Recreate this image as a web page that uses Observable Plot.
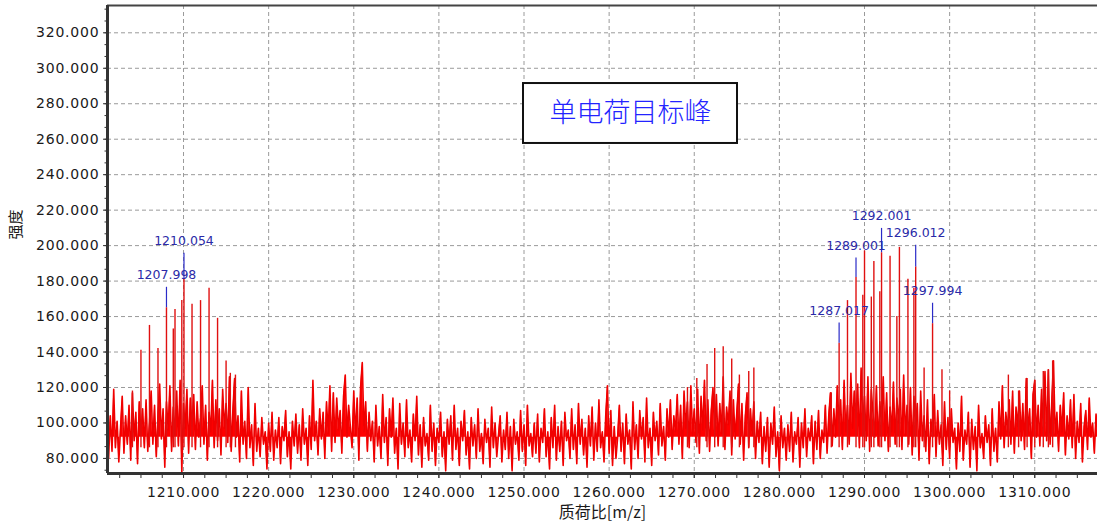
<!DOCTYPE html>
<html>
<head>
<meta charset="utf-8">
<script src="https://cdn.jsdelivr.net/npm/d3@7"></script>
<script src="https://cdn.jsdelivr.net/npm/@observablehq/plot@0.6"></script>
<style>
  html, body { margin: 0; padding: 0; background: #fff; }
  #chart { width: 1097px; height: 530px; }
  g[aria-label="x-axis tick label"] text,
  g[aria-label="y-axis tick label"] text { letter-spacing: 0.8px; }
</style>
</head>
<body>
<div id="chart"></div>
<script>
// ---- sampling of the profile spectrum ----
const mzStart = 1201.0;
const mzStep = 0.2;

// profile intensity, 0.2 m/z steps (each group of 5 = one m/z unit)
const noise1201 = [
  92,80,104,84,119, 86,101,78,97,115, 83,104,88,110,79, 117,90,106,77,112, 94,108,86,113,84,
  100,118,88,110,81, 104,122,91,108,75, 112,96,121,84,109, 93,118,87,124,72, 111,97,119,83,114];
const noise1211 = [
  98,116,85,112,92, 103,121,88,110,79, 106,95,124,86,113, 90,108,82,119,97, 111,89,126,84,107,
  125,92,104,78,118, 88,101,80,120,86, 99,76,111,84,97, 81,103,88,95,74, 100,84,106,79,96];
const noise1221 = [
  86,103,77,98,90, 107,81,95,74,101, 87,105,83,99,79, 108,88,97,76,104, 85,124,90,101,82,
  108,91,106,80,112, 94,121,84,117,89, 114,96,107,83,115, 127,92,110,98,86, 118,93,114,79,120];
const noise1231 = [
  134,95,112,84,106, 90,101,78,110,87, 98,80,116,89,103, 76,108,92,114,83, 97,74,111,88,100,
  81,113,86,96,78, 105,90,115,82,99, 75,103,87,94,79, 110,84,100,76,97, 89,106,81,95,73];
const noise1241 = [
  102,88,104,79,110, 85,97,76,101,90, 107,82,95,74,103, 87,99,80,108,84, 94,77,102,89,97,
  75,109,86,100,81, 93,104,78,96,85, 106,80,98,73,102, 88,95,79,107,84, 99,76,110,87,94];
const noise1251 = [
  81,100,83,105,78, 97,89,108,81,95, 74,103,86,110,79, 98,84,101,76,106, 90,96,80,108,85,
  99,77,111,88,102, 82,97,75,104,87, 109,79,100,84,113, 86,95,78,104,121, 83,107,76,98,80];
const noise1261 = [
  92,110,84,100,77, 105,88,96,74,112, 85,99,80,107,91, 103,78,114,86,97, 76,106,90,101,82,
  111,87,98,79,108, 92,113,85,104,95, 116,88,110,80,118, 97,112,86,121,93, 108,89,119,83,115];
const noise1271 = [
  96,124,90,113,84, 107,120,92,116,87, 111,94,126,85,109, 99,118,82,113,91, 106,122,88,111,79,
  104,117,86,108,93, 112,80,101,89,106, 77,98,84,103,75, 100,88,109,81,95, 73,104,86,97,79];
const noise1281 = [
  99,84,106,78,95, 88,103,75,100,86, 108,81,97,90,104, 77,101,85,107,80, 96,89,110,83,104,
  117,87,108,92,121, 100,113,85,124,95, 110,88,128,97,118, 103,122,86,131,99, 115,90,126,84,119];
const noise1291 = [
  105,92,121,87,112, 98,126,90,117,84, 109,95,123,88,114, 100,119,85,127,93, 110,88,120,82,115,
  97,111,79,118,90, 104,84,113,77,102, 92,116,81,107,88, 99,76,112,85,103, 80,108,89,97,74];
const noise1301 = [
  100,84,115,79,96, 88,106,75,102,85, 98,73,110,86,94, 80,104,89,99,76, 108,84,97,78,112,
  91,121,86,106,95, 113,88,118,83,109, 98,118,90,111,85, 125,94,108,80,116, 124,92,110,87,119];
const noise1311 = [
  97,129,90,130,88, 112,135,93,106,84, 110,95,117,82,104, 91,113,86,116,80, 101,89,111,78,98,
  107,85,114,92,100, 83,105,94];

// isotope / centroid lines (m/z, intensity)
const peakMz = [
  1204.0, 1205.0, 1206.0, 1207.0, 1207.998, 1208.8, 1209.0, 1209.8, 1210.054, 1211.0, 1212.0, 1213.0, 1214.0, 1215.0, 1215.5, 1216.1,
  1269.2, 1270.3, 1271.5, 1272.4, 1273.4, 1274.4, 1275.3, 1276.4, 1277.0,
  1286.1, 1287.017, 1288.0, 1289.001, 1289.8, 1290.0, 1290.8, 1291.1, 1291.8, 1292.001, 1293.0, 1293.8, 1294.1, 1295.1, 1295.8, 1296.012, 1297.0, 1297.994, 1299.1, 1300.0,
  1306.9, 1308.1, 1309.1, 1310.0, 1311.0, 1311.6, 1312.1];
const peakInt = [
  118, 141, 155, 142, 165, 153, 164, 169, 181, 167, 169, 176, 159, 135, 128, 127,
  120, 125, 133, 142, 143, 136, 127, 129, 131,
  117, 145, 169, 182, 172, 197, 171, 191, 174, 196, 194, 160, 199, 181, 176, 188, 131, 156, 130, 118,
  127, 118, 125, 124, 129, 130, 135];

// labelled peaks
const labelMz   = [1207.998, 1210.054, 1287.017, 1289.001, 1292.001, 1296.012, 1297.994];
const labelPeak = [165, 181, 145, 182, 196, 188, 156];
const labelTop  = [176.5, 195.7, 156.4, 193, 209.7, 200.2, 167.5];
const labelText = ["1207.998", "1210.054", "1287.017", "1289.001", "1292.001", "1296.012", "1297.994"];

// annotation box
const annotText = ["单电荷目标峰"];
const annotX1 = [1249.94], annotX2 = [1275.08], annotY1 = [257.6], annotY2 = [291.4];

// axes
const xDomain = [1201.07, 1317.37];
const yDomain = [71.5, 335.4];
const xTicks = [1210, 1220, 1230, 1240, 1250, 1260, 1270, 1280, 1290, 1300, 1310];
const yTicks = [80, 100, 120, 140, 160, 180, 200, 220, 240, 260, 280, 300, 320];
const xLabel = "质荷比[m/z]";
const yLabel = "强度";
const bandBase = 92;

// ---- build tables ----
const noiseAll = [].concat(noise1201, noise1211, noise1221, noise1231, noise1241, noise1251,
  noise1261, noise1271, noise1281, noise1291, noise1301, noise1311);
const spectrum = noiseAll.map((v, i) => ({mz: +(mzStart + i * mzStep).toFixed(2), intensity: v}));
const peaks = peakMz.map((m, i) => ({mz: m, intensity: peakInt[i]}));
const labels = labelMz.map((m, i) => ({mz: m, peak: labelPeak[i], top: labelTop[i], text: labelText[i]}));
const annot = annotText.map((t, i) => ({x1: annotX1[i], x2: annotX2[i], y1: annotY1[i], y2: annotY2[i], text: t}));

const xMinor = d3.range(1202.5, 1317.2, 2.5);
const yMinor = d3.range(80, 335, 20 / 3).concat(d3.range(80 - 20 / 3, 71, -20 / 3));
const fmt = d3.format(".3f");

const chart = Plot.plot({
  width: 1097,
  height: 530,
  marginLeft: 107,
  marginRight: 0,
  marginTop: 5,
  marginBottom: 57,
  x: {domain: xDomain, axis: null},
  y: {domain: yDomain, axis: null},
  style: {fontFamily: "DejaVu Sans, sans-serif", fontSize: "14px", color: "#1a1a1a", background: "#fff", overflow: "visible"},
  marks: [
    Plot.gridX({ticks: xTicks, stroke: "#9a9a9a", strokeOpacity: 1, strokeDasharray: "4,3"}),
    Plot.gridY({ticks: yTicks, stroke: "#9a9a9a", strokeOpacity: 1, strokeDasharray: "4,3"}),
    Plot.areaY(spectrum, {x: "mz", y1: bandBase, y2: "intensity", fill: "#ff0000", clip: true}),
    Plot.lineY(spectrum, {x: "mz", y: "intensity", stroke: "#f00000", strokeWidth: 1.6, clip: true}),
    Plot.ruleX(peaks, {x: "mz", y1: 86, y2: "intensity", stroke: "#e01010", strokeWidth: 1.4, clip: true}),
    Plot.ruleX(labels, {x: "mz", y1: "peak", y2: "top", stroke: "#2b2bc8", strokeWidth: 1.2}),
    Plot.text(labels, {x: "mz", y: "top", text: "text", dy: -12, fill: "#2a2aa8", fontSize: 12.5, lineAnchor: "middle"}),
    Plot.rect(annot, {x1: "x1", x2: "x2", y1: "y1", y2: "y2", fill: "#fff", stroke: "#111", strokeWidth: 2}),
    Plot.text(annot, {x: d => (d.x1 + d.x2) / 2, y: d => (d.y1 + d.y2) / 2, text: "text", fill: "#2323ff",
      fontSize: 27, fontFamily: "Noto Sans CJK SC", fontWeight: 300, lineAnchor: "middle"}),
    // axes
    Plot.axisX({ticks: xMinor, tickSize: 5, tickFormat: () => "", label: null, stroke: "#333"}),
    Plot.axisX({ticks: xTicks, tickSize: 5, tickPadding: 9, tickFormat: fmt, label: null, stroke: "#333", fill: "#1a1a1a"}),
    Plot.axisY({ticks: yMinor, tickSize: 2.5, tickFormat: () => "", label: null, stroke: "#333"}),
    Plot.axisY({ticks: yTicks, tickSize: 4, tickPadding: 4, tickFormat: fmt, label: null, stroke: "#333", fill: "#1a1a1a"}),
    Plot.ruleY([yDomain[0]], {stroke: "#333", strokeWidth: 3}),
    Plot.ruleY([yDomain[1]], {stroke: "#444", strokeWidth: 2}),
    Plot.ruleX([xDomain[0]], {stroke: "#333", strokeWidth: 3}),
    Plot.text([xLabel], {frameAnchor: "bottom", dy: 44, fontSize: 16, fontFamily: "Noto Sans CJK SC, DejaVu Sans", fill: "#1a1a1a"}),
    Plot.text([yLabel], {frameAnchor: "left", dx: -91, rotate: -90, fontSize: 15, fontFamily: "Noto Sans CJK SC", fill: "#1a1a1a"})
  ]
});
document.getElementById("chart").appendChild(chart);
</script>
</body>
</html>
